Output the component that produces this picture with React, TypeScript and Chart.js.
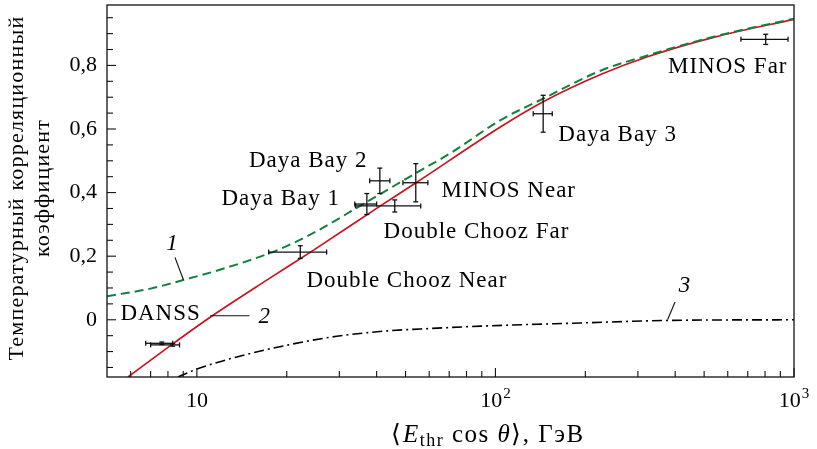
import { useEffect, useRef } from 'react';
import { Chart, registerables } from 'chart.js';

Chart.register(...registerables);

const FONT = '"Liberation Serif", "Times New Roman", serif';
const GREEN = '#13803f';
const RED = '#c8141e';
const INK = '#111111';

// Curve 1 (green dashed)
const curve1E = [5, 7, 9, 12, 18.6, 25, 37.3, 55, 71, 104, 142, 226, 325, 542, 1000];
const curve1V = [0.074, 0.098, 0.125, 0.158, 0.219, 0.277, 0.372, 0.465, 0.525, 0.628, 0.692, 0.784, 0.832, 0.891, 0.947];

// Curve 2 (red solid)
const curve2E = [5.88, 8.24, 11.08, 17.3, 24.6, 41.3, 54.2, 104.5, 142, 226, 325, 542, 1000];
const curve2V = [-0.18, -0.078, 0.008, 0.127, 0.219, 0.359, 0.431, 0.608, 0.682, 0.772, 0.828, 0.889, 0.945];

// Curve 3 (black dash-dot)
const curve3E = [8.65, 10, 13.6, 20, 29.4, 43.4, 56.2, 89.3, 193.6, 380, 1000];
const curve3V = [-0.18, -0.155, -0.117, -0.08, -0.052, -0.035, -0.029, -0.02, -0.01, -0.002, 0];

// Experimental points with error bars
const pointE = [7.63, 8.3, 22.2, 37.1, 41.0, 46.0, 54.1, 144.5, 804];
const pointEMin = [6.74, 7.0, 17.4, 33.8, 37.9, 34.0, 49.0, 133.8, 664];
const pointEMax = [8.3, 8.75, 27.2, 40.0, 44.3, 56.2, 59.4, 155, 955];
const pointV = [-0.074, -0.079, 0.213, 0.364, 0.437, 0.358, 0.431, 0.648, 0.882];
const pointErr = [0.004, 0.004, 0.02, 0.033, 0.04, 0.019, 0.06, 0.058, 0.016];

// Point labels (center x, baseline y in data coordinates)
const labelTexts = ['Daya Bay 2', 'Daya Bay 1', 'MINOS Near', 'Double Chooz Far', 'Double Chooz Near', 'Daya Bay 3', 'MINOS Far', 'DANSS'];
const labelE = [23.6, 19.1, 110.8, 86.4, 50.5, 256.6, 600, 7.56];
const labelV = [0.481, 0.361, 0.387, 0.256, 0.1025, 0.563, 0.777, -0.0016];

// Curve tags and leader lines
const tagTexts = ['1', '2', '3'];
const tagE = [8.26, 16.8, 429.5];
const tagV = [0.219, -0.011, 0.0868];
const leaderE0 = [8.45, 11.08, 399.5];
const leaderV0 = [0.196, 0.0126, 0.056];
const leaderE1 = [9.02, 15.0, 377.6];
const leaderV1 = [0.125, 0.0126, 0.0006];

// Ticks
const xMajorTicks = [10, 100, 1000];
const xTickBase = ['10', '10', '10'];
const xTickExp = ['', '2', '3'];
const xMinorTicks = [6, 7, 8, 9, 20, 30, 40, 50, 60, 70, 80, 90, 200, 300, 400, 500, 600, 700, 800, 900];
const yMajorTicks = [0, 0.2, 0.4, 0.6, 0.8];
const yTickLabels = ['0', '0,2', '0,4', '0,6', '0,8'];
const yMinorTicks = [-0.15, -0.1, -0.05, 0.05, 0.1, 0.15, 0.25, 0.3, 0.35, 0.45, 0.5, 0.55, 0.65, 0.7, 0.75, 0.85, 0.9, 0.95];

const yTitleLines = ['Температурный корреляционный', 'коэффициент'];

const overlay = {
  id: 'overlay',
  afterDatasetsDraw(chart: any) {
    const { ctx, chartArea: a } = chart;
    const x = chart.scales.x;
    const y = chart.scales.y;
    const line = (x0: number, y0: number, x1: number, y1: number) => {
      ctx.beginPath();
      ctx.moveTo(x0, y0);
      ctx.lineTo(x1, y1);
      ctx.stroke();
    };
    ctx.save();
    // error bars
    ctx.strokeStyle = INK;
    ctx.lineWidth = 1.3;
    const cap = 2.5;
    for (let i = 0; i < pointE.length; i++) {
      const cx = x.getPixelForValue(pointE[i]);
      const cy = y.getPixelForValue(pointV[i]);
      const x0 = x.getPixelForValue(pointEMin[i]);
      const x1 = x.getPixelForValue(pointEMax[i]);
      const y0 = y.getPixelForValue(pointV[i] + pointErr[i]);
      const y1 = y.getPixelForValue(pointV[i] - pointErr[i]);
      line(x0, cy, x1, cy);
      line(cx, y0, cx, y1);
      line(x0, cy - cap, x0, cy + cap);
      line(x1, cy - cap, x1, cy + cap);
      line(cx - cap, y0, cx + cap, y0);
      line(cx - cap, y1, cx + cap, y1);
    }
    // leader lines
    ctx.lineWidth = 1.1;
    for (let i = 0; i < leaderE0.length; i++) {
      line(
        x.getPixelForValue(leaderE0[i]), y.getPixelForValue(leaderV0[i]),
        x.getPixelForValue(leaderE1[i]), y.getPixelForValue(leaderV1[i])
      );
    }
    // labels
    ctx.fillStyle = '#000';
    ctx.textAlign = 'center';
    ctx.textBaseline = 'alphabetic';
    ctx.font = `23px ${FONT}`;
    (ctx as any).letterSpacing = '1px';
    for (let i = 0; i < labelTexts.length; i++) {
      ctx.fillText(labelTexts[i], x.getPixelForValue(labelE[i]), y.getPixelForValue(labelV[i]));
    }
    ctx.font = `italic 23px ${FONT}`;
    (ctx as any).letterSpacing = '0px';
    for (let i = 0; i < tagTexts.length; i++) {
      ctx.fillText(tagTexts[i], x.getPixelForValue(tagE[i]), y.getPixelForValue(tagV[i]));
    }
    // ticks (inward)
    ctx.strokeStyle = INK;
    ctx.lineWidth = 1.1;
    for (const v of xMajorTicks) {
      const px = x.getPixelForValue(v);
      line(px, a.bottom, px, a.bottom - 9);
    }
    for (const v of xMinorTicks) {
      const px = x.getPixelForValue(v);
      line(px, a.bottom, px, a.bottom - 6);
    }
    for (const v of yMajorTicks) {
      const py = y.getPixelForValue(v);
      line(a.left, py, a.left + 9, py);
    }
    for (const v of yMinorTicks) {
      const py = y.getPixelForValue(v);
      line(a.left, py, a.left + 6, py);
    }
    // frame
    ctx.lineWidth = 1.3;
    ctx.strokeRect(a.left, a.top, a.right - a.left, a.bottom - a.top);
    ctx.restore();
  },
  afterDraw(chart: any) {
    const { ctx, chartArea: a } = chart;
    const x = chart.scales.x;
    ctx.save();
    ctx.fillStyle = '#000';
    // x tick labels with superscript exponents
    ctx.textAlign = 'left';
    ctx.textBaseline = 'alphabetic';
    const tickBase = a.bottom + 30;
    for (let i = 0; i < xMajorTicks.length; i++) {
      ctx.font = `22px ${FONT}`;
      const wb = ctx.measureText(xTickBase[i]).width;
      ctx.font = `15px ${FONT}`;
      const we = xTickExp[i] ? ctx.measureText(xTickExp[i]).width + 1 : 0;
      const px = x.getPixelForValue(xMajorTicks[i]);
      const left = px - (wb + we) / 2;
      ctx.font = `22px ${FONT}`;
      ctx.fillText(xTickBase[i], left, tickBase);
      if (xTickExp[i]) {
        ctx.font = `15px ${FONT}`;
        ctx.fillText(xTickExp[i], left + wb + 1, tickBase - 9);
      }
    }
    // y title
    ctx.font = `22px ${FONT}`;
    (ctx as any).letterSpacing = '1.2px';
    ctx.textAlign = 'center';
    ctx.textBaseline = 'middle';
    const cy = (a.top + a.bottom) / 2 - 3;
    const xs = [17, 43];
    yTitleLines.forEach((t, i) => {
      ctx.save();
      ctx.translate(xs[i], cy);
      ctx.rotate(-Math.PI / 2);
      ctx.fillText(t, 0, 0);
      ctx.restore();
    });
    // x title: ⟨E_thr cos θ⟩, ГэВ
    (ctx as any).letterSpacing = '1.5px';
    ctx.textAlign = 'left';
    ctx.textBaseline = 'alphabetic';
    const parts: [string, string, number][] = [
      ['⟨', `25px ${FONT}`, 0],
      ['E', `italic 25px ${FONT}`, 0],
      ['thr', `18px ${FONT}`, 4],
      [' cos ', `25px ${FONT}`, 0],
      ['θ', `italic 25px ${FONT}`, 0],
      ['⟩, ГэВ', `25px ${FONT}`, 0],
    ];
    let total = 0;
    const widths = parts.map(([t, f]) => {
      ctx.font = f;
      const w = ctx.measureText(t).width;
      total += w;
      return w;
    });
    let px = 488 - total / 2;
    const base = 442;
    parts.forEach(([t, f, dy], i) => {
      ctx.font = f;
      ctx.fillText(t, px, base + dy);
      px += widths[i];
    });
    ctx.restore();
  },
};

export default function App() {
  const ref = useRef<HTMLCanvasElement>(null);
  useEffect(() => {
    document.body.style.margin = '0';
    const canvas = ref.current!;
    const chart = new Chart(canvas, {
      type: 'line',
      data: {
        datasets: [
          {
            label: '1',
            data: curve1E.map((e, i) => ({ x: e, y: curve1V[i] })),
            borderColor: GREEN,
            borderWidth: 2,
            borderDash: [9, 5],
            pointRadius: 0,
            cubicInterpolationMode: 'monotone',
            fill: false,
          },
          {
            label: '2',
            data: curve2E.map((e, i) => ({ x: e, y: curve2V[i] })),
            borderColor: RED,
            borderWidth: 1.7,
            pointRadius: 0,
            cubicInterpolationMode: 'monotone',
            fill: false,
          },
          {
            label: '3',
            data: curve3E.map((e, i) => ({ x: e, y: curve3V[i] })),
            borderColor: '#000',
            borderWidth: 1.6,
            borderDash: [10, 4, 2, 4],
            pointRadius: 0,
            cubicInterpolationMode: 'monotone',
            fill: false,
          },
          {
            type: 'scatter',
            label: 'points',
            data: pointE.map((e, i) => ({ x: e, y: pointV[i] })),
            pointRadius: 0,
            showLine: false,
          } as any,
        ],
      },
      options: {
        responsive: false,
        maintainAspectRatio: false,
        animation: false,
        layout: { padding: { top: 5, right: 23, left: 0, bottom: 0 } },
        plugins: { legend: { display: false }, tooltip: { enabled: false } },
        scales: {
          x: {
            type: 'logarithmic',
            min: 5,
            max: 1000,
            grid: { display: false, drawTicks: false },
            border: { display: false },
            afterBuildTicks: (s: any) => {
              s.ticks = xMajorTicks.map((v) => ({ value: v }));
            },
            afterFit: (s: any) => {
              s.height = 72;
              s.paddingLeft = 0;
              s.paddingRight = 0;
            },
            ticks: { display: false },
          },
          y: {
            type: 'linear',
            min: -0.18,
            max: 0.99,
            grid: { display: false, drawTicks: false },
            border: { display: false },
            afterBuildTicks: (s: any) => {
              s.ticks = yMajorTicks.map((v) => ({ value: v }));
            },
            afterFit: (s: any) => {
              s.width = 107;
              s.paddingTop = 0;
              s.paddingBottom = 0;
            },
            ticks: {
              callback: (_v: any, i: number) => yTickLabels[i],
              font: { family: FONT, size: 22 },
              color: '#000',
              padding: 10,
              autoSkip: false,
            },
          },
        },
      },
      plugins: [overlay],
    });
    return () => chart.destroy();
  }, []);
  return <canvas ref={ref} width={817} height={449} style={{ display: 'block', width: 817, height: 449 }} />;
}
